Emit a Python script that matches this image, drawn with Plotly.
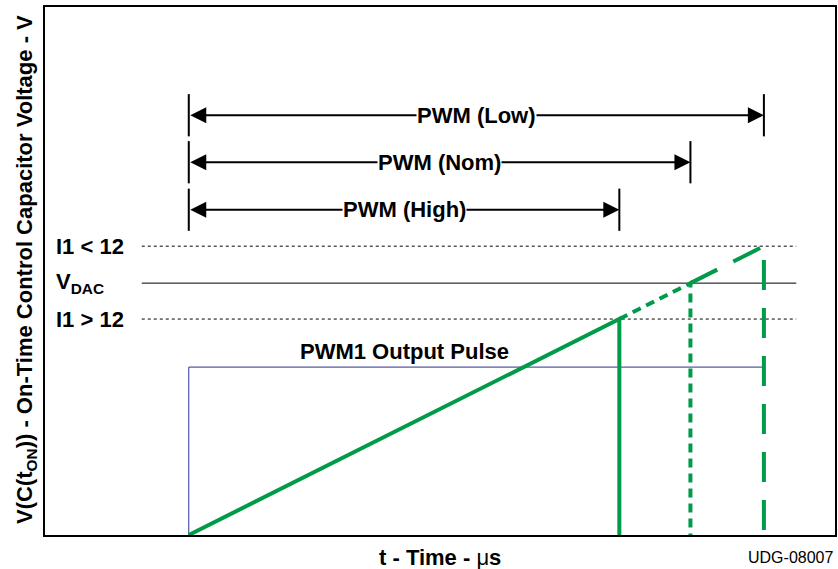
import plotly.graph_objects as go

# ---- data (time axis 0..100 arbitrary units, voltage axis 0..100 arbitrary units)
t_start = 18.2                      # PWM turn-on time
cases = ["High", "Nom", "Low"]      # line-voltage cases
t_end = [72.7, 81.7, 91.0]          # ramp end (turn-off) times
v_level = [40.9, 47.7, 54.7]        # threshold voltage reached
level_labels = ["I1 > 12", "V<sub>DAC</sub>", "I1 < 12"]
arrow_rows = [61.6, 70.6, 79.5]     # y of the PWM width arrows (High, Nom, Low)
pulse_top = 31.8                    # PWM1 output pulse height
ref_x = [12.25, 95.1]               # extent of the reference level lines

GREEN = "#009B48"
NAVY = "#2E3192"
FONT = "Arial, Liberation Sans, sans-serif"
FS = 22

fig = go.Figure()

# PWM1 output pulse
fig.add_trace(go.Scatter(x=[t_start, t_start, t_end[2]],
                         y=[0, pulse_top, pulse_top],
                         mode="lines", line=dict(color=NAVY, width=1),
                         hoverinfo="skip", showlegend=False))

# reference levels
styles = ["dot", "solid", "dot"]
for v, s in zip(v_level, styles):
    fig.add_trace(go.Scatter(x=ref_x, y=[v, v], mode="lines",
                             line=dict(color="black", width=1, dash=s),
                             hoverinfo="skip", showlegend=False))

# ramp and turn-off lines
dashes = ["solid", "9px,6px", "30px,18px"]
prev_t, prev_v = t_start, 0
for i in range(3):
    fig.add_trace(go.Scatter(x=[prev_t, t_end[i], t_end[i]],
                             y=[prev_v, v_level[i], 0], mode="lines",
                             line=dict(color=GREEN, width=4, dash=dashes[i]),
                             hoverinfo="skip", showlegend=False))
    prev_t, prev_v = t_end[i], v_level[i]

shapes = []
annotations = []
half = 4.3
for i in range(3):
    yr = arrow_rows[i]
    for xx in (t_start, t_end[i]):
        shapes.append(dict(type="line", xref="x", yref="y", x0=xx, x1=xx,
                           y0=yr - half + 0.3, y1=yr + half - 0.3,
                           line=dict(color="black", width=2)))
    annotations.append(dict(x=t_end[i], y=yr, ax=t_start, ay=yr,
                            xref="x", yref="y", axref="x", ayref="y",
                            showarrow=True, arrowhead=2, arrowsize=1.6,
                            arrowwidth=2, arrowside="end+start",
                            arrowcolor="black", text="", standoff=0,
                            startstandoff=0))
    annotations.append(dict(x=(t_start + t_end[i]) / 2, y=yr, xref="x", yref="y",
                            text=f"<b>PWM ({cases[i]})</b>", showarrow=False,
                            bgcolor="white", borderpad=0,
                            font=dict(family=FONT, size=FS, color="black")))

# level labels
for lab, v in zip(level_labels, v_level):
    annotations.append(dict(x=0.012, y=v, xref="paper", yref="y", xanchor="left",
                            text=f"<b>{lab}</b>", showarrow=False,
                            font=dict(family=FONT, size=FS, color="black")))

annotations.append(dict(x=(t_start + t_end[0]) / 2, y=pulse_top, xref="x", yref="y",
                        yanchor="bottom", yshift=1,
                        text="<b>PWM1 Output Pulse</b>", showarrow=False,
                        font=dict(family=FONT, size=FS, color="black")))

annotations.append(dict(x=0.5, y=-0.042, xref="paper", yref="paper",
                        text="<b>t - Time - </b>μ<b>s</b>", showarrow=False,
                        yanchor="middle",
                        font=dict(family=FONT, size=FS, color="black")))
annotations.append(dict(x=1.0, y=-0.042, xref="paper", yref="paper",
                        xanchor="right", yanchor="middle",
                        text="UDG-08007", showarrow=False,
                        font=dict(family=FONT, size=16, color="black")))
annotations.append(dict(x=-0.024, y=0.502, xref="paper", yref="paper",
                        xanchor="center", yanchor="middle",
                        textangle=-90, showarrow=False,
                        text="<b>V(C(t<sub>ON</sub>)) - On-Time Control Capacitor Voltage - V</b>",
                        font=dict(family=FONT, size=22, color="black")))

fig.update_layout(
    width=838, height=569,
    margin=dict(l=45, r=1, t=7, b=34),
    paper_bgcolor="white", plot_bgcolor="white",
    shapes=shapes, annotations=annotations,
    showlegend=False,
)
fig.update_xaxes(range=[0, 100], showgrid=False, zeroline=False, showticklabels=False,
                 ticks="", showline=True, mirror=True, linecolor="black", linewidth=1.5)
fig.update_yaxes(range=[0, 100], showgrid=False, zeroline=False, showticklabels=False,
                 ticks="", showline=True, mirror=True, linecolor="black", linewidth=1.5)

fig.write_html("out.html", config={"displayModeBar": False},
               post_script="document.body.style.margin='0';document.body.style.overflow='hidden';")
